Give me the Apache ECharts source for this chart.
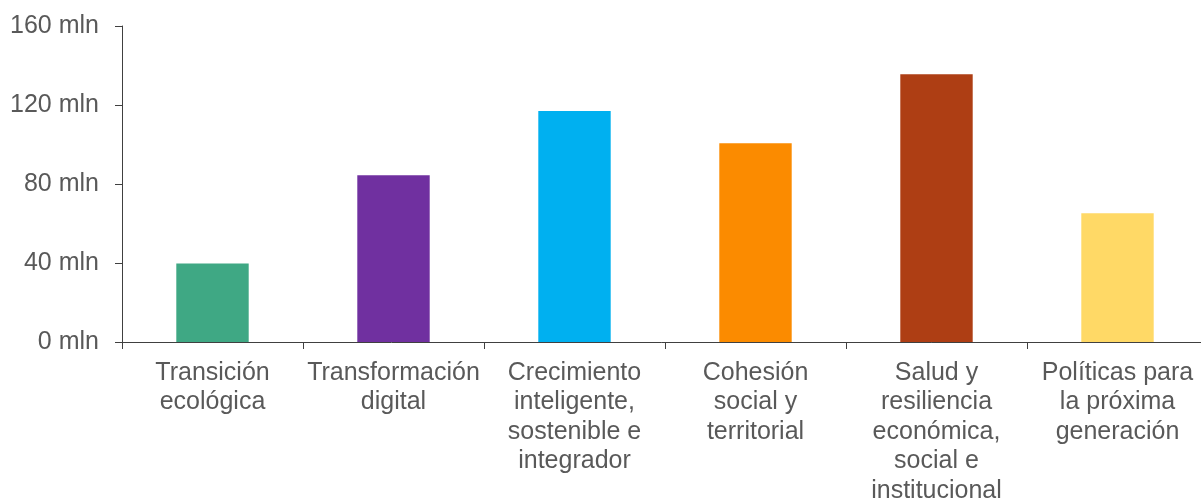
<!DOCTYPE html>
<html>
<head>
<meta charset="utf-8">
<script src="https://cdn.jsdelivr.net/npm/echarts@6/dist/echarts.min.js"></script>
<style>
  html, body { margin: 0; padding: 0; background: #fff; }
  #chart { width: 1201px; height: 499px; }
</style>
</head>
<body>
<div id="chart"></div>
<script>
// categories (line breaks as in the original labels)
const categories = [
  'Transición\necológica',
  'Transformación\ndigital',
  'Crecimiento\ninteligente,\nsostenible e\nintegrador',
  'Cohesión\nsocial y\nterritorial',
  'Salud y\nresiliencia\neconómica,\nsocial e\ninstitucional',
  'Políticas para\nla próxima\ngeneración'
];
// values in mln
const values = [39.8, 84.4, 116.9, 100.6, 135.6, 65.2];
const barColors = ['#3FA884', '#7030A0', '#00B0F0', '#FB8B00', '#AE3E14', '#FFD966'];
const yTicks = { min: 0, max: 160, interval: 40 };

const textColor = '#595959';
const axisColor = '#404040';

const chart = echarts.init(document.getElementById('chart'));

chart.setOption({
  animation: false,
  grid: { left: 122, top: 26, right: -7, bottom: 157, containLabel: false, outerBoundsMode: 'none' },
  xAxis: {
    type: 'category',
    data: categories,
    axisLine: { show: true, lineStyle: { color: axisColor, width: 1 } },
    axisTick: { show: true, length: 7, lineStyle: { color: axisColor } },
    axisLabel: {
      interval: 0,
      margin: 16,
      color: textColor,
      fontFamily: 'Liberation Sans, Arial, sans-serif',
      fontSize: 25,
      lineHeight: 29.6,
      align: 'center'
    },
    splitLine: { show: false }
  },
  yAxis: {
    type: 'value',
    min: yTicks.min,
    max: yTicks.max,
    interval: yTicks.interval,
    axisLine: { show: true, lineStyle: { color: axisColor, width: 1 } },
    axisTick: { show: true, length: 7, lineStyle: { color: axisColor } },
    axisLabel: {
      margin: 23,
      color: textColor,
      fontFamily: 'Liberation Sans, Arial, sans-serif',
      fontSize: 25,
      formatter: '{value} mln'
    },
    splitLine: { show: false }
  },
  series: [{
    type: 'bar',
    barWidth: '40%',
    data: values.map((v, i) => ({ value: v, itemStyle: { color: barColors[i] } }))
  }]
});
</script>
</body>
</html>
